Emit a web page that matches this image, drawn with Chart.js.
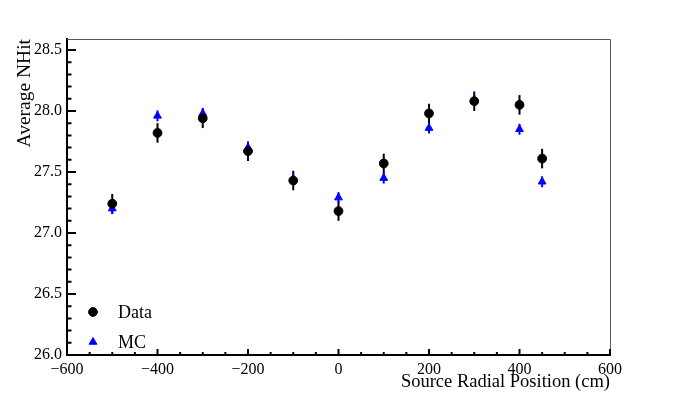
<!DOCTYPE html>
<html>
<head>
<meta charset="utf-8">
<script src="https://cdn.jsdelivr.net/npm/chart.js@4"></script>
<style>
  html, body { margin: 0; padding: 0; background: #fff; }
  #wrap { width: 678px; height: 396px; }
</style>
</head>
<body>
<div id="wrap"><canvas id="c" width="678" height="396"></canvas></div>
<script>
// Data
const positions = [-500, -400, -300, -200, -100, 0, 100, 200, 300, 400, 450];
const dataNhit  = [27.24, 27.82, 27.94, 27.67, 27.43, 27.18, 27.57, 27.98, 28.08, 28.05, 27.61];
const dataErr   = [0.08, 0.08, 0.08, 0.08, 0.08, 0.08, 0.08, 0.08, 0.08, 0.08, 0.08];
const mcNhit    = [27.20, 27.96, 27.98, 27.70, 27.44, 27.29, 27.45, 27.86, 28.09, 27.85, 27.42];
const mcErr     = [0.045, 0.045, 0.045, 0.045, 0.045, 0.045, 0.045, 0.045, 0.045, 0.045, 0.045];

const FONT = "'Liberation Serif', 'DejaVu Serif', serif";

const toPts = (ys) => positions.map((x, i) => ({ x, y: ys[i] }));

// Error bars drawn under the markers
const errorBars = {
  id: "errorBars",
  beforeDatasetsDraw(chart) {
    const ctx = chart.ctx;
    const y = chart.scales.y;
    const errs = [dataErr, mcErr];
    chart.data.datasets.forEach((ds, di) => {
      const meta = chart.getDatasetMeta(di);
      ctx.save();
      ctx.strokeStyle = ds.borderColor;
      ctx.lineWidth = 2;
      meta.data.forEach((pt, i) => {
        const v = ds.data[i].y;
        ctx.beginPath();
        ctx.moveTo(pt.x, y.getPixelForValue(v - errs[di][i]));
        ctx.lineTo(pt.x, y.getPixelForValue(v + errs[di][i]));
        ctx.stroke();
      });
      ctx.restore();
    });
  }
};

// ROOT-style frame with inward ticks + legend
const frame = {
  id: "frame",
  afterDraw(chart) {
    const ctx = chart.ctx;
    const { left, right, top, bottom } = chart.chartArea;
    const xs = chart.scales.x, ys = chart.scales.y;
    ctx.save();
    // top / right frame
    ctx.strokeStyle = "#555";
    ctx.lineWidth = 1;
    ctx.beginPath();
    ctx.moveTo(left, top + 0.5);
    ctx.lineTo(right + 0.5, top + 0.5);
    ctx.lineTo(right + 0.5, bottom);
    ctx.stroke();

    ctx.strokeStyle = "#000";
    ctx.lineWidth = 2;
    ctx.beginPath();
    for (let v = -600; v <= 600; v += 50) {
      const px = xs.getPixelForValue(v);
      const len = v % 200 === 0 ? 6 : 3;
      ctx.moveTo(px, bottom);
      ctx.lineTo(px, bottom - len);
    }
    for (let k = 0; k <= 26; k++) {
      const v = 26 + k * 0.1;
      const py = ys.getPixelForValue(v);
      if (py < top) break;
      const len = k % 5 === 0 ? 9 : 4.5;
      ctx.moveTo(left, py);
      ctx.lineTo(left + len, py);
    }
    ctx.stroke();

    // legend
    const items = [
      { label: "Data", ds: chart.data.datasets[0], y: 312 },
      { label: "MC", ds: chart.data.datasets[1], y: 342 }
    ];
    ctx.font = "18px " + FONT;
    ctx.textBaseline = "middle";
    items.forEach(it => {
      ctx.fillStyle = it.ds.backgroundColor;
      ctx.strokeStyle = it.ds.borderColor;
      ctx.lineWidth = 1;
      Chart.helpers.drawPoint(ctx, {
        pointStyle: it.ds.pointStyle, radius: it.ds.pointRadius, borderWidth: 1
      }, 93, it.y);
      ctx.fillStyle = "#000";
      ctx.fillText(it.label, 118, it.y + 1);
    });
    ctx.restore();
  }
};

new Chart(document.getElementById("c"), {
  type: "scatter",
  data: {
    datasets: [
      {
        label: "Data",
        data: toPts(dataNhit),
        pointStyle: "circle",
        pointRadius: 4.4,
        pointHoverRadius: 4.4,
        backgroundColor: "#000",
        borderColor: "#000"
      },
      {
        label: "MC",
        data: toPts(mcNhit),
        pointStyle: "triangle",
        pointRadius: 4.5,
        pointHoverRadius: 4.5,
        backgroundColor: "#0000ff",
        borderColor: "#0000ff"
      }
    ]
  },
  options: {
    responsive: false,
    animation: false,
    events: [],
    layout: { padding: { top: 39, right: 68, left: 0, bottom: 0 } },
    plugins: { legend: { display: false }, tooltip: { enabled: false } },
    scales: {
      x: {
        type: "linear",
        min: -600, max: 600,
        afterFit: s => { s.height = 41; },
        grid: { display: false, drawTicks: false },
        border: { display: true, color: "#000", width: 2 },
        ticks: {
          stepSize: 200,
          padding: 5,
          color: "#000",
          maxRotation: 0,
          font: { family: FONT, size: 16 },
          callback: v => String(v).replace("-", "\u2212")
        },
        title: {
          display: true,
          text: "Source Radial Position (cm)",
          align: "end",
          color: "#000",
          font: { family: FONT, size: 18.5 },
          padding: { top: 0, bottom: 3 }
        }
      },
      y: {
        type: "linear",
        min: 26.0, max: 28.59,
        afterFit: s => { s.width = 67; },
        grid: { display: false, drawTicks: false },
        border: { display: true, color: "#000", width: 2 },
        ticks: {
          stepSize: 0.5,
          includeBounds: false,
          padding: 5,
          color: "#000",
          font: { family: FONT, size: 16 },
          callback: v => v.toFixed(1)
        },
        title: {
          display: true,
          text: "Average NHit",
          align: "end",
          color: "#000",
          font: { family: FONT, size: 19.5 },
          padding: { top: 13, bottom: 0 }
        }
      }
    }
  },
  plugins: [errorBars, frame]
});
</script>
</body>
</html>
